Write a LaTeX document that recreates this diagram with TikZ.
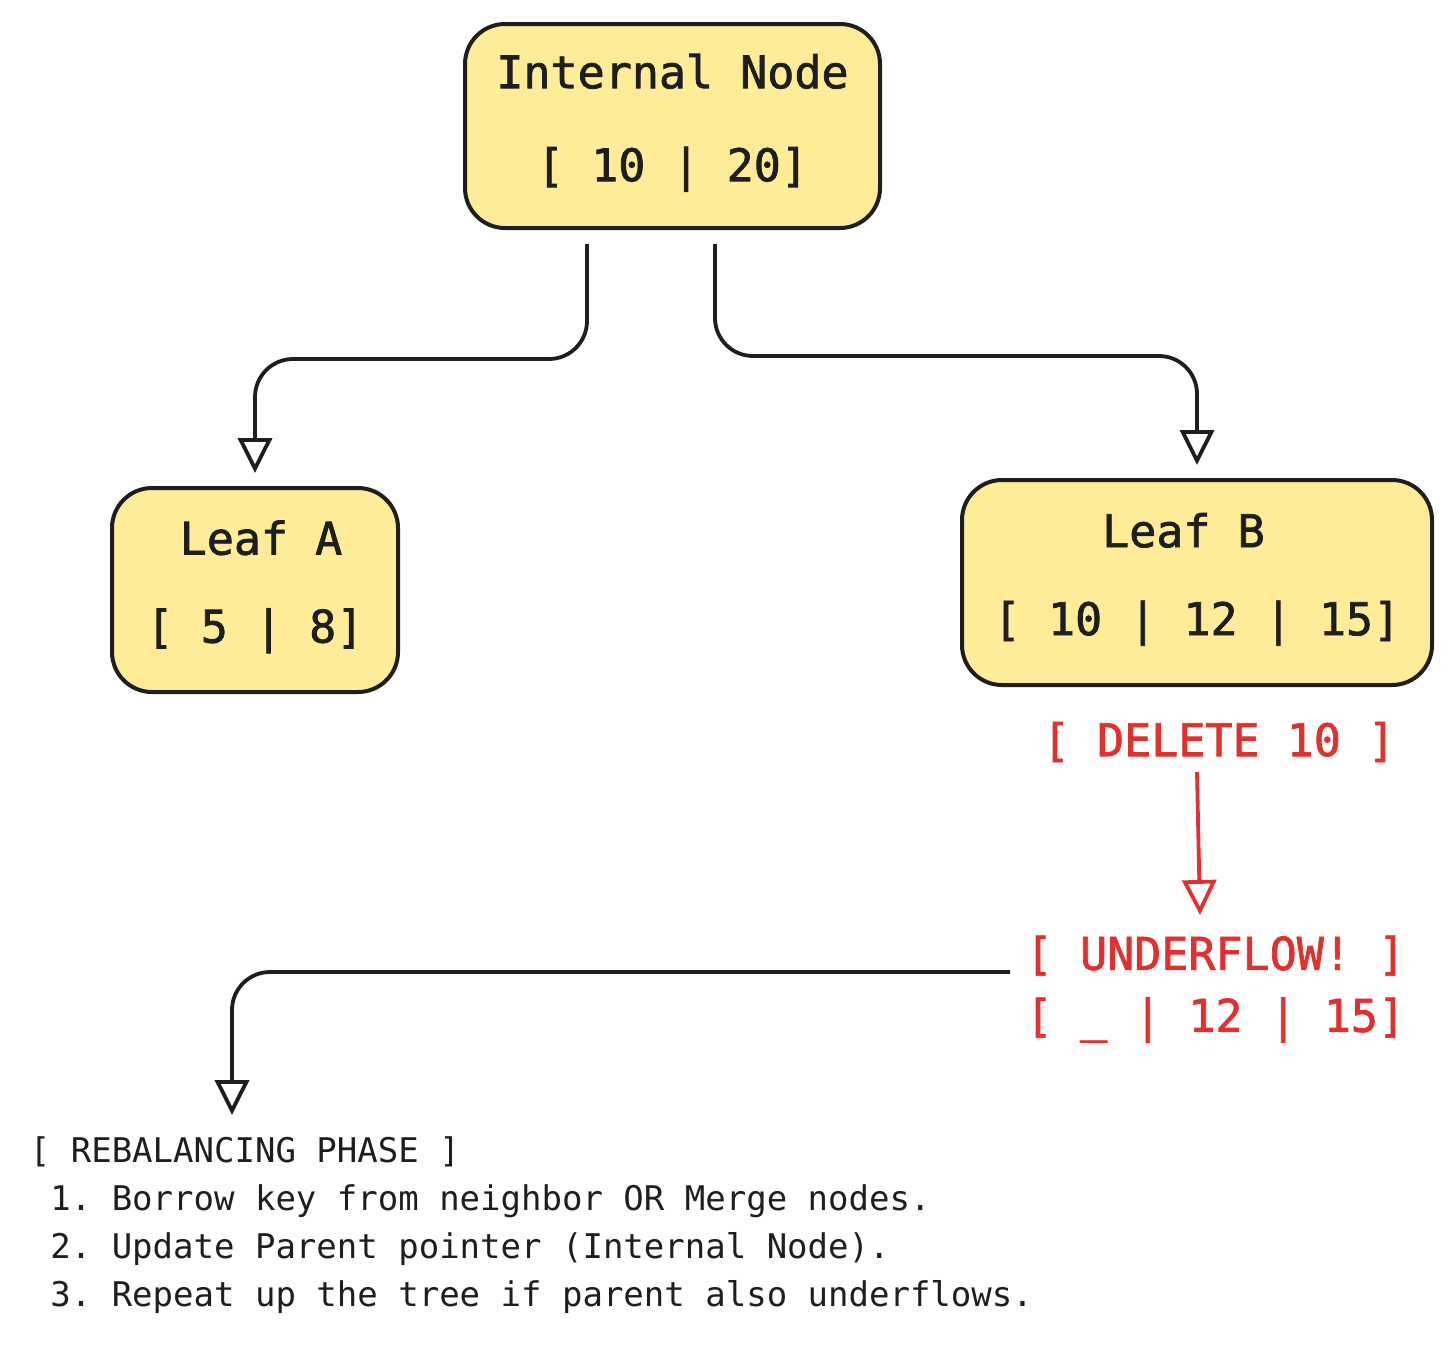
\documentclass[tikz,border=0pt]{standalone}
\usepackage{fontspec}
\setmonofont{DejaVu Sans Mono}
\newfontfamily\handfont{DejaVu Sans Mono}[FakeBold=1.6]
\usetikzlibrary{arrows.meta}

\definecolor{boxfill}{HTML}{FFEC99}
\definecolor{ink}{HTML}{1E1E1E}
\definecolor{alert}{HTML}{E03131}

\begin{document}
\begin{tikzpicture}[
  x=1pt, y=1pt,
  >={Triangle[open,length=35pt,width=34pt]},
  line width=3.8pt,
  keybox/.style={draw=ink,fill=boxfill,rounded corners=40pt,align=center,inner sep=0,line width=4pt,
    text=ink,text depth=17pt,font=\handfont\fontsize{45}{88}\selectfont},
  redtext/.style={text=alert,inner sep=0,font=\handfont\fontsize{45}{62}\selectfont},
  steps/.style={text=ink,inner sep=0,align=left,font=\ttfamily\fontsize{34}{48}\selectfont},
  link/.style={draw=ink,->,rounded corners=38pt}
  ]

  \useasboundingbox (0,0) rectangle (1456,-1345);

  % the tree
  \node [keybox,minimum width=415pt,minimum height=204pt,
    font=\handfont\fontsize{45}{93}\selectfont] (inode) at (672.5,-126) {Internal Node\\{[ 10 | 20]}};
  \node [keybox,minimum width=286pt,minimum height=204pt] (leafA) at (255,-590) {\hspace*{12pt}Leaf A\\{[ 5 | 8]}};
  \node [keybox,minimum width=470pt,minimum height=205pt] (leafB) at (1197,-582.5) {Leaf B\phantom{x}\\{[ 10 | 12 | 15]}};

  \draw [link] ([xshift=-85.5pt,yshift=-14pt]inode.south) -- ++(0,-115) -| ([yshift=13pt]leafA.north);
  \draw [link] ([xshift=42.5pt,yshift=-14pt]inode.south) -- ++(0,-112) -| ([yshift=13pt]leafB.north);

  % the delete
  \node [redtext] (del) at (1219,-742) {[ DELETE 10 ]};
  \node [redtext,align=left] (uflow) at (1215.5,-989) {[ UNDERFLOW! ]\\{[ \_ | 12 | 15]}};
  \draw [link,draw=alert] ([xshift=-22pt,yshift=-30pt]del.center) -- ([xshift=-15.5pt,yshift=74pt]uflow.center);

  \node [steps,anchor=north west] (rebal) at (28,-1135) {[ REBALANCING PHASE ]\\
    \phantom{x}1. Borrow key from neighbor OR Merge nodes.\\
    \phantom{x}2. Update Parent pointer (Internal Node).\\
    \phantom{x}3. Repeat up the tree if parent also underflows.};
  \draw [link] ([xshift=-205.5pt,yshift=17pt]uflow.center) -| ([xshift=204pt,yshift=20pt]rebal.north west);

\end{tikzpicture}
\end{document}
